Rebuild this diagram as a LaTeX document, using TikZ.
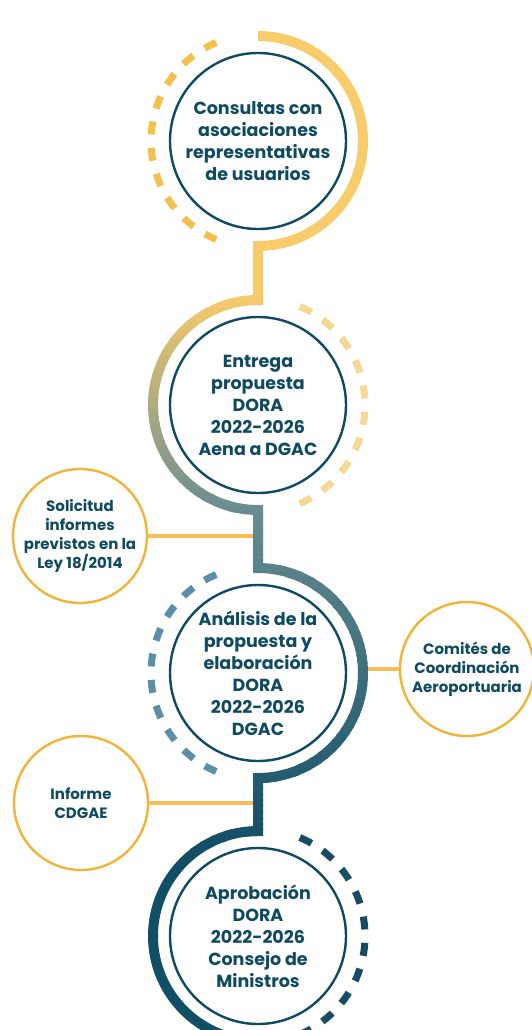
\documentclass[tikz,border=0pt]{standalone}
\usepackage{fontspec}
\setmainfont{Poppins}
\usetikzlibrary{calc}

\definecolor{inkteal}{HTML}{0E4A62}
\definecolor{gold}{HTML}{F8CB6B}
\definecolor{sage}{HTML}{668C91}
\definecolor{petrol}{HTML}{134E67}
\definecolor{amber}{HTML}{F2B336}
\definecolor{ringgold}{HTML}{F3C04B}
\definecolor{ringpale}{HTML}{F6D896}
\definecolor{ringblue}{HTML}{5B8EA9}
\definecolor{ringdark}{HTML}{184C65}

% the thick line that runs round the four stages
\def\spinepath{($(consult.center)+(0,105)$) arc[start angle=90, end angle=-90, radius=105]
  -- ($(entrega.center)+(0,105)$) arc[start angle=90, end angle=270, radius=105]
  -- ($(analisis.center)+(0,105)$) arc[start angle=90, end angle=-90, radius=105]
  -- ($(aprob.center)+(0,105)$) arc[start angle=90, end angle=270, radius=105]}

\begin{document}
\begin{tikzpicture}[x=1pt, y=1pt,
  every node/.style={text=inkteal, align=center},
  stage/.style={circle, draw=inkteal, line width=2.4pt, minimum size=176pt,
                inner sep=0pt, font=\fontsize{17.5}{22}\selectfont\bfseries},
  side/.style={circle, draw=amber, line width=2.4pt, minimum size=134pt,
               inner sep=0pt, font=\fontsize{15}{19}\selectfont\bfseries},
  link/.style={draw=amber!85, line width=3.2pt},
  spine/.style={line width=10pt, line join=miter},
  ring/.style={line width=7pt, dash pattern=on 13pt off 13.4pt}
]
\useasboundingbox (0,0) rectangle (532,-1030);
\clip (0,0) rectangle (532,-1030);

% Main stages down the middle
\node[stage] (consult)  at (258,-141) {Consultas con\\asociaciones\\representativas\\de usuarios};
\node[stage] (entrega)  at (258,-405) {Entrega\\propuesta\\DORA\\2022-2026\\Aena a DGAC};
\node[stage] (analisis) at (258,-673) {Análisis de la\\propuesta y\\elaboración\\DORA\\2022-2026\\DGAC};
\node[stage] (aprob)    at (258,-936) {Aprobación\\DORA\\2022-2026\\Consejo de\\Ministros};

% Side reports
\node[side] (solicitud) at (80,-536)  {Solicitud\\informes\\previstos en la\\Ley 18/2014};
\node[side] (comites)   at (467,-669) {Comités de\\Coordinación\\Aeroportuaria};
\node[side] (informe)   at (81,-803)  {Informe\\CDGAE};

% Joints on the thick line
\coordinate (j1) at (258,-536);
\coordinate (j2) at ($(analisis.center)+(105,4)$);
\coordinate (j3) at (258,-803);
\draw[link] (solicitud) -- (j1);
\draw[link] (comites)   -- (j2);
\draw[link] (informe)   -- (j3);

% Thick line, gold at the top to petrol at the bottom
\begin{scope}
  \clip (0,0) rectangle (532,-290);
  \draw[spine, gold] \spinepath;
\end{scope}
\foreach \y in {290,296,...,506}{
  \pgfmathtruncatemacro\p{(\y-290)/2.2}
  \begin{scope}
    \clip (0,-\y) rectangle (532,-\y-6.5);
    \draw[spine, draw=sage!\p!gold] \spinepath;
  \end{scope}
}
\foreach \y in {512,518,...,842}{
  \pgfmathtruncatemacro\p{(\y-512)/3.3}
  \begin{scope}
    \clip (0,-\y+0.5) rectangle (532,-\y-6.5);
    \draw[spine, draw=petrol!\p!sage] \spinepath;
  \end{scope}
}
\begin{scope}
  \clip (0,-846) rectangle (532,-1030);
  \draw[spine, petrol] \spinepath;
\end{scope}

% Dashed rings on the free side of each stage
\draw[ring, ringgold] ($(consult.center)+(113:107)$)  arc[start angle=113, end angle=247, radius=107];
\draw[ring, ringpale] ($(entrega.center)+(67:107)$)   arc[start angle=67, end angle=-67, radius=107];
\draw[ring, ringblue] ($(analisis.center)+(113:107)$) arc[start angle=113, end angle=247, radius=107];
\draw[ring, ringdark] ($(aprob.center)+(67:107)$)     arc[start angle=67, end angle=-67, radius=107];
\end{tikzpicture}
\end{document}
